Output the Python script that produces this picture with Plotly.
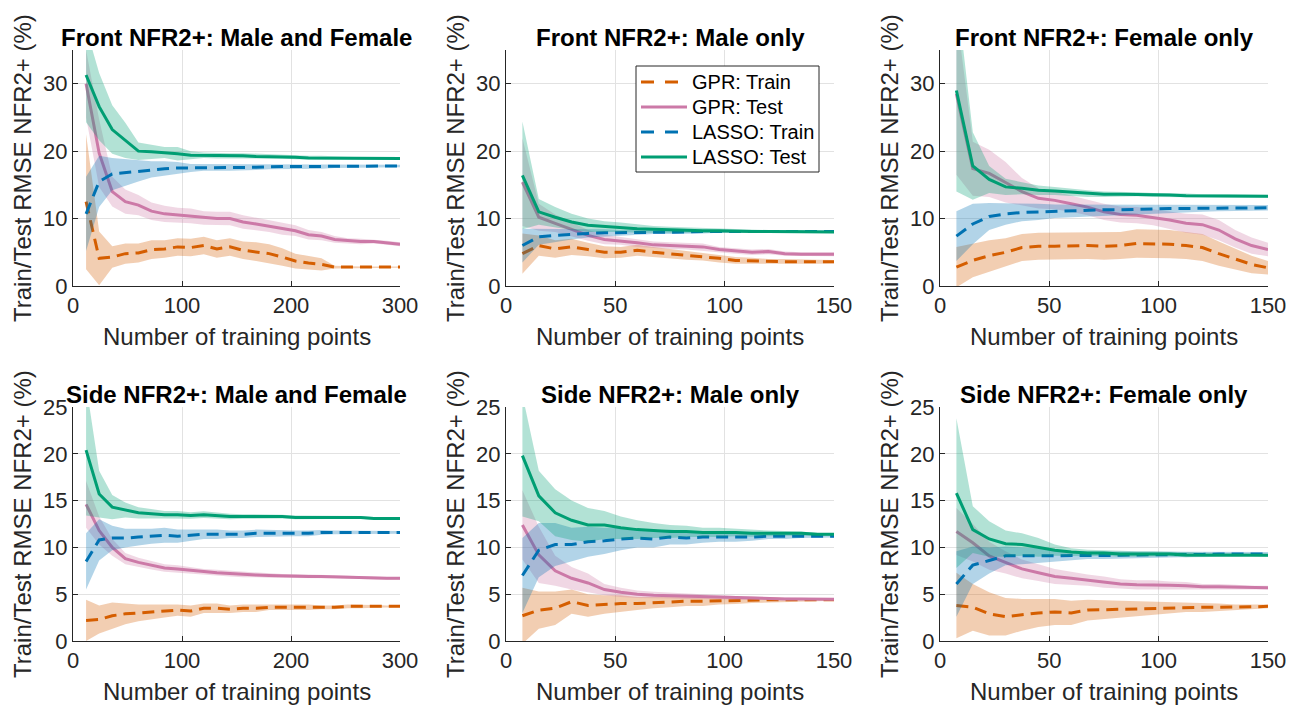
import numpy as np
import plotly.graph_objects as go

W, H = 1289, 707

def px(x):
    return x / W

def py(y):
    return 1 - y / H

# ---------------- data ----------------
X300 = [12 * i for i in range(1, 26)]
X150 = [7.5 * i for i in range(1, 21)]

SERIES = ["GPR: Train", "GPR: Test", "LASSO: Train", "LASSO: Test"]
TITLES = ["Front NFR2+: Male and Female", "Front NFR2+: Male only", "Front NFR2+: Female only",
          "Side NFR2+: Male and Female", "Side NFR2+: Male only", "Side NFR2+: Female only"]
X_TICKS_300 = [0, 100, 200, 300]
X_TICKS_150 = [0, 50, 100, 150]
Y_TICKS_TOP = [0, 10, 20, 30]
Y_TICKS_BOT = [0, 5, 10, 15, 20, 25]

P1_GPR_TRAIN = [12.5, 4.1, 4.3, 4.8, 4.9, 5.4, 5.5, 5.8, 5.7, 6.0, 5.5, 5.8, 5.3, 5.1, 4.8, 4.3, 3.7, 3.4, 3.2, 2.8, 2.8, 2.8, 2.8, 2.8, 2.8]
P1_GPR_TRAIN_SD = [10.0, 4.0, 1.6, 1.5, 1.4, 1.4, 1.3, 1.3, 1.3, 1.3, 1.3, 1.3, 1.3, 1.4, 1.4, 1.3, 1.1, 1.0, 0.9, 0.2, 0.1, 0.1, 0.1, 0.1, 0.1]
P1_GPR_TEST = [30.0, 19.7, 14.0, 12.5, 12.0, 11.1, 10.7, 10.5, 10.4, 10.1, 10.0, 10.0, 9.5, 9.2, 8.9, 8.5, 8.2, 7.6, 7.4, 6.9, 6.7, 6.6, 6.6, 6.4, 6.2]
P1_GPR_TEST_SD = [5.0, 5.0, 2.2, 1.8, 1.5, 1.3, 1.2, 1.1, 1.1, 1.0, 1.0, 1.0, 1.0, 0.9, 0.9, 0.9, 0.8, 0.7, 0.6, 0.5, 0.4, 0.4, 0.3, 0.3, 0.3]
P1_LASSO_TRAIN = [10.7, 15.5, 16.6, 16.8, 17.1, 17.3, 17.4, 17.5, 17.5, 17.6, 17.6, 17.6, 17.6, 17.6, 17.7, 17.7, 17.7, 17.7, 17.7, 17.8, 17.8, 17.8, 17.8, 17.8, 17.8]
P1_LASSO_TRAIN_SD = [5.5, 3.8, 2.4, 2.0, 1.6, 1.2, 1.1, 0.9, 0.6, 0.5, 0.5, 0.5, 0.5, 0.4, 0.4, 0.4, 0.4, 0.3, 0.3, 0.3, 0.3, 0.2, 0.2, 0.2, 0.2]
P1_LASSO_TEST = [31.3, 26.6, 23.2, 21.6, 20.0, 19.9, 19.8, 19.6, 19.4, 19.4, 19.3, 19.3, 19.3, 19.2, 19.2, 19.2, 19.1, 19.0, 19.0, 19.0, 18.9, 18.9, 18.9, 18.9, 18.9]
P1_LASSO_TEST_SD = [7.0, 5.0, 3.6, 2.6, 1.3, 1.0, 0.8, 1.0, 0.6, 0.4, 0.4, 0.4, 0.4, 0.4, 0.3, 0.3, 0.3, 0.3, 0.3, 0.2, 0.2, 0.2, 0.2, 0.2, 0.2]

P2_GPR_TRAIN = [4.8, 6.0, 5.5, 5.8, 5.4, 5.0, 5.0, 5.3, 5.0, 4.8, 4.6, 4.4, 4.1, 3.8, 3.7, 3.6, 3.6, 3.6, 3.6, 3.6]
P2_GPR_TRAIN_SD = [3.0, 1.5, 1.3, 1.2, 1.0, 0.9, 0.8, 0.8, 0.8, 0.7, 0.7, 0.6, 0.6, 0.5, 0.5, 0.4, 0.4, 0.3, 0.3, 0.25]
P2_GPR_TEST = [15.4, 10.2, 9.3, 8.4, 7.5, 6.9, 6.7, 6.4, 6.1, 6.0, 5.9, 5.8, 5.4, 5.2, 5.0, 5.1, 4.8, 4.7, 4.7, 4.7]
P2_GPR_TEST_SD = [6.5, 2.0, 1.3, 1.0, 0.8, 0.7, 0.6, 0.6, 0.5, 0.5, 0.5, 0.5, 0.4, 0.4, 0.4, 0.4, 0.3, 0.3, 0.3, 0.3]
P2_LASSO_TRAIN = [6.0, 7.3, 7.5, 7.7, 7.8, 7.9, 7.9, 8.0, 8.0, 8.0, 8.0, 8.1, 8.1, 8.1, 8.1, 8.1, 8.1, 8.1, 8.1, 8.1]
P2_LASSO_TRAIN_SD = [2.5, 1.2, 1.0, 0.8, 0.6, 0.5, 0.4, 0.4, 0.3, 0.3, 0.3, 0.3, 0.2, 0.2, 0.2, 0.2, 0.2, 0.15, 0.15, 0.15]
P2_LASSO_TEST = [16.4, 11.0, 10.2, 9.5, 9.0, 8.8, 8.7, 8.5, 8.4, 8.3, 8.3, 8.2, 8.2, 8.1, 8.1, 8.1, 8.1, 8.1, 8.0, 8.0]
P2_LASSO_TEST_SD = [8.0, 1.9, 1.5, 1.2, 1.0, 0.8, 0.7, 0.6, 0.5, 0.5, 0.4, 0.4, 0.3, 0.3, 0.3, 0.2, 0.2, 0.2, 0.15, 0.15]

P3_GPR_TRAIN = [2.8, 3.8, 4.5, 5.0, 5.7, 5.9, 5.9, 6.0, 6.0, 5.9, 6.0, 6.3, 6.3, 6.2, 6.0, 5.7, 4.8, 4.0, 3.2, 2.7]
P3_GPR_TRAIN_SD = [3.0, 2.5, 2.3, 2.1, 2.0, 2.0, 2.0, 2.0, 2.0, 2.0, 2.0, 2.1, 2.1, 2.1, 2.0, 2.0, 1.8, 1.6, 1.3, 1.0]
P3_GPR_TEST = [28.5, 17.4, 16.7, 15.4, 14.0, 13.0, 12.7, 12.2, 11.7, 11.0, 10.6, 10.5, 10.2, 9.8, 9.3, 9.1, 8.3, 7.0, 6.0, 5.4]
P3_GPR_TEST_SD = [12.0, 4.0, 3.5, 3.0, 2.0, 1.5, 1.3, 1.2, 1.2, 1.2, 1.2, 1.2, 1.2, 1.3, 1.4, 1.5, 1.5, 1.3, 1.2, 1.0]
P3_LASSO_TRAIN = [7.4, 9.2, 10.3, 10.7, 10.9, 11.0, 11.1, 11.2, 11.2, 11.3, 11.3, 11.4, 11.4, 11.5, 11.5, 11.5, 11.6, 11.6, 11.6, 11.6]
P3_LASSO_TRAIN_SD = [3.7, 3.0, 2.0, 1.6, 1.3, 1.2, 1.0, 0.9, 0.8, 0.8, 0.8, 0.7, 0.7, 0.6, 0.6, 0.5, 0.5, 0.4, 0.4, 0.4]
P3_LASSO_TEST = [29.0, 17.8, 15.8, 14.7, 14.5, 14.2, 14.1, 13.9, 13.7, 13.6, 13.6, 13.6, 13.5, 13.5, 13.4, 13.4, 13.4, 13.3, 13.3, 13.3]
P3_LASSO_TEST_SD = [15.0, 5.0, 2.0, 1.2, 0.9, 0.7, 0.6, 0.5, 0.5, 0.4, 0.4, 0.3, 0.3, 0.3, 0.3, 0.2, 0.2, 0.2, 0.2, 0.2]

P4_GPR_TRAIN = [2.2, 2.3, 2.7, 2.9, 3.0, 3.1, 3.2, 3.3, 3.2, 3.5, 3.5, 3.4, 3.5, 3.5, 3.6, 3.6, 3.6, 3.6, 3.6, 3.6, 3.7, 3.7, 3.7, 3.7, 3.7]
P4_GPR_TRAIN_SD = [2.2, 1.5, 1.4, 1.1, 0.9, 0.8, 0.7, 0.6, 0.6, 0.5, 0.5, 0.4, 0.4, 0.4, 0.3, 0.3, 0.3, 0.3, 0.2, 0.2, 0.2, 0.2, 0.15, 0.1, 0.1]
P4_GPR_TEST = [14.6, 11.8, 10.0, 8.8, 8.4, 8.1, 7.8, 7.7, 7.55, 7.4, 7.3, 7.2, 7.1, 7.05, 7.0, 6.95, 6.95, 6.9, 6.9, 6.85, 6.8, 6.8, 6.75, 6.7, 6.7]
P4_GPR_TEST_SD = [2.5, 1.5, 0.9, 0.6, 0.5, 0.45, 0.4, 0.4, 0.35, 0.3, 0.3, 0.3, 0.3, 0.25, 0.25, 0.2, 0.2, 0.2, 0.2, 0.15, 0.15, 0.15, 0.15, 0.15, 0.15]
P4_LASSO_TRAIN = [8.5, 10.8, 11.0, 11.0, 11.1, 11.2, 11.3, 11.2, 11.3, 11.4, 11.4, 11.4, 11.4, 11.5, 11.5, 11.5, 11.5, 11.5, 11.6, 11.6, 11.6, 11.6, 11.6, 11.6, 11.6]
P4_LASSO_TRAIN_SD = [3.0, 2.2, 1.3, 1.0, 0.9, 0.8, 0.8, 0.7, 0.6, 0.5, 0.5, 0.4, 0.4, 0.4, 0.35, 0.3, 0.3, 0.3, 0.25, 0.2, 0.2, 0.2, 0.15, 0.15, 0.15]
P4_LASSO_TEST = [20.4, 15.7, 14.3, 14.0, 13.7, 13.6, 13.5, 13.5, 13.4, 13.5, 13.4, 13.3, 13.3, 13.3, 13.3, 13.3, 13.2, 13.2, 13.2, 13.2, 13.2, 13.2, 13.1, 13.1, 13.1]
P4_LASSO_TEST_SD = [7.0, 2.5, 1.3, 0.8, 0.6, 0.5, 0.4, 0.4, 0.35, 0.35, 0.3, 0.3, 0.25, 0.25, 0.2, 0.2, 0.2, 0.2, 0.15, 0.15, 0.15, 0.15, 0.15, 0.15, 0.15]

P5_GPR_TRAIN = [2.7, 3.3, 3.5, 4.2, 3.8, 3.9, 4.0, 4.0, 4.1, 4.2, 4.25, 4.25, 4.3, 4.35, 4.35, 4.4, 4.4, 4.4, 4.4, 4.4]
P5_GPR_TRAIN_SD = [3.0, 2.0, 1.8, 1.3, 1.2, 1.0, 0.9, 0.7, 0.6, 0.6, 0.5, 0.5, 0.4, 0.4, 0.3, 0.3, 0.2, 0.2, 0.15, 0.1]
P5_GPR_TEST = [12.4, 9.2, 7.5, 6.7, 6.2, 5.5, 5.2, 5.0, 4.9, 4.85, 4.8, 4.7, 4.65, 4.6, 4.55, 4.5, 4.5, 4.5, 4.45, 4.45]
P5_GPR_TEST_SD = [3.7, 3.0, 1.6, 1.2, 1.0, 0.6, 0.5, 0.4, 0.35, 0.3, 0.3, 0.25, 0.2, 0.2, 0.2, 0.15, 0.15, 0.1, 0.1, 0.1]
P5_LASSO_TRAIN = [7.0, 9.7, 10.3, 10.3, 10.6, 10.7, 10.9, 11.0, 10.9, 11.1, 11.0, 11.1, 11.1, 11.1, 11.1, 11.2, 11.2, 11.2, 11.2, 11.2]
P5_LASSO_TRAIN_SD = [4.0, 2.9, 2.3, 1.8, 1.6, 1.4, 1.2, 1.0, 0.9, 0.8, 0.7, 0.6, 0.5, 0.5, 0.4, 0.3, 0.3, 0.2, 0.15, 0.15]
P5_LASSO_TEST = [19.8, 15.5, 13.7, 12.9, 12.4, 12.4, 12.1, 11.9, 11.8, 11.7, 11.7, 11.6, 11.6, 11.6, 11.5, 11.5, 11.5, 11.5, 11.4, 11.4]
P5_LASSO_TEST_SD = [6.5, 2.7, 2.5, 2.1, 1.8, 1.5, 1.2, 1.0, 0.8, 0.7, 0.6, 0.5, 0.5, 0.4, 0.35, 0.3, 0.25, 0.2, 0.15, 0.15]

P6_GPR_TRAIN = [3.8, 3.6, 2.9, 2.6, 2.8, 3.0, 3.1, 3.0, 3.3, 3.35, 3.4, 3.45, 3.5, 3.55, 3.6, 3.6, 3.6, 3.6, 3.65, 3.7]
P6_GPR_TRAIN_SD = [3.5, 2.5, 2.3, 2.0, 1.7, 1.5, 1.4, 1.3, 1.1, 1.0, 0.9, 0.8, 0.7, 0.6, 0.5, 0.5, 0.4, 0.3, 0.25, 0.2]
P6_GPR_TEST = [11.7, 10.5, 9.1, 8.4, 7.7, 7.3, 6.9, 6.7, 6.5, 6.3, 6.1, 6.0, 6.0, 5.95, 5.9, 5.8, 5.8, 5.75, 5.7, 5.7]
P6_GPR_TEST_SD = [2.5, 2.0, 1.5, 1.2, 1.0, 0.9, 0.8, 0.7, 0.6, 0.6, 0.5, 0.5, 0.5, 0.4, 0.4, 0.3, 0.3, 0.25, 0.2, 0.2]
P6_LASSO_TRAIN = [6.1, 8.1, 8.6, 9.1, 9.1, 9.1, 9.1, 9.1, 9.15, 9.15, 9.15, 9.2, 9.2, 9.2, 9.25, 9.25, 9.3, 9.3, 9.3, 9.3]
P6_LASSO_TRAIN_SD = [3.5, 2.0, 1.4, 1.0, 0.9, 0.8, 0.6, 0.5, 0.4, 0.4, 0.4, 0.35, 0.3, 0.3, 0.3, 0.25, 0.25, 0.2, 0.2, 0.2]
P6_LASSO_TEST = [15.8, 11.9, 10.9, 10.4, 10.3, 10.0, 9.7, 9.5, 9.4, 9.4, 9.3, 9.3, 9.3, 9.3, 9.2, 9.2, 9.2, 9.2, 9.2, 9.15]
P6_LASSO_TEST_SD = [8.0, 2.5, 1.9, 1.4, 1.2, 1.0, 0.6, 0.4, 0.35, 0.3, 0.3, 0.3, 0.3, 0.25, 0.25, 0.2, 0.2, 0.2, 0.15, 0.15]

PANELS = [
    (X300, [(P1_GPR_TRAIN, P1_GPR_TRAIN_SD), (P1_GPR_TEST, P1_GPR_TEST_SD), (P1_LASSO_TRAIN, P1_LASSO_TRAIN_SD), (P1_LASSO_TEST, P1_LASSO_TEST_SD)]),
    (X150, [(P2_GPR_TRAIN, P2_GPR_TRAIN_SD), (P2_GPR_TEST, P2_GPR_TEST_SD), (P2_LASSO_TRAIN, P2_LASSO_TRAIN_SD), (P2_LASSO_TEST, P2_LASSO_TEST_SD)]),
    (X150, [(P3_GPR_TRAIN, P3_GPR_TRAIN_SD), (P3_GPR_TEST, P3_GPR_TEST_SD), (P3_LASSO_TRAIN, P3_LASSO_TRAIN_SD), (P3_LASSO_TEST, P3_LASSO_TEST_SD)]),
    (X300, [(P4_GPR_TRAIN, P4_GPR_TRAIN_SD), (P4_GPR_TEST, P4_GPR_TEST_SD), (P4_LASSO_TRAIN, P4_LASSO_TRAIN_SD), (P4_LASSO_TEST, P4_LASSO_TEST_SD)]),
    (X150, [(P5_GPR_TRAIN, P5_GPR_TRAIN_SD), (P5_GPR_TEST, P5_GPR_TEST_SD), (P5_LASSO_TRAIN, P5_LASSO_TRAIN_SD), (P5_LASSO_TEST, P5_LASSO_TEST_SD)]),
    (X150, [(P6_GPR_TRAIN, P6_GPR_TRAIN_SD), (P6_GPR_TEST, P6_GPR_TEST_SD), (P6_LASSO_TRAIN, P6_LASSO_TRAIN_SD), (P6_LASSO_TEST, P6_LASSO_TEST_SD)]),
]

COLORS = ["#D55E00", "#CC79A7", "#0072B2", "#009E73"]
DASHES = ["12px,7px", "solid", "12px,7px", "solid"]
LEG_DASHES = ["13px,11px", "solid", "13px,11px", "solid"]
FONT = "Liberation Sans, Arial, sans-serif"
TXT = "#262626"

def rgba(hexc, a):
    h = hexc.lstrip("#")
    r, g, b = int(h[0:2], 16), int(h[2:4], 16), int(h[4:6], 16)
    return f"rgba({r},{g},{b},{a})"

XPIX = [(73, 400), (506, 834), (940, 1268)]
YPIX = [(50, 286), (407, 641)]

fig = go.Figure()
layout = dict(width=W, height=H, margin=dict(l=0, r=0, t=0, b=0, pad=0, autoexpand=False),
              paper_bgcolor="white", plot_bgcolor="white",
              font=dict(family=FONT, color=TXT), showlegend=False)
annotations = []
shapes = []

for k, (xs, series) in enumerate(PANELS):
    row, col = divmod(k, 3)
    ax = "" if k == 0 else str(k + 1)
    xa, ya = "x" + ax, "y" + ax
    x0, x1 = XPIX[col]
    yt, yb = YPIX[row]
    common = dict(showgrid=True, gridcolor="#e2e2e2", gridwidth=1, zeroline=False,
                  showline=True, linecolor=TXT, linewidth=1, mirror=False, automargin=False,
                  ticks="inside", ticklen=5, tickcolor=TXT,
                  tickfont=dict(size=22, color=TXT, family=FONT))
    layout["xaxis" + ax] = dict(domain=[px(x0), px(x1)], anchor=ya, range=[0, 300 if col == 0 else 150],
                                tickvals=X_TICKS_300 if col == 0 else X_TICKS_150, **common)
    layout["yaxis" + ax] = dict(domain=[py(yb), py(yt)], anchor=xa, range=[0, 35 if row == 0 else 25],
                                tickvals=Y_TICKS_TOP if row == 0 else Y_TICKS_BOT, **common)
    xarr = np.array(xs, dtype=float)
    for s, (mean, sd) in enumerate(series):
        m = np.array(mean, dtype=float)
        d = np.array(sd, dtype=float)
        fig.add_trace(go.Scatter(
            x=np.concatenate([xarr, xarr[::-1]]), y=np.concatenate([m + d, (m - d)[::-1]]),
            xaxis=xa, yaxis=ya, mode="lines", fill="toself",
            fillcolor=rgba(COLORS[s], 0.3), line=dict(width=0, color=rgba(COLORS[s], 0)),
            showlegend=False, hoverinfo="skip"))
        fig.add_trace(go.Scatter(
            x=xarr, y=m, xaxis=xa, yaxis=ya, mode="lines",
            line=dict(color=COLORS[s], width=3, dash=DASHES[s]),
            name=SERIES[s], showlegend=False))
    cx = (x0 + x1) / 2
    annotations.append(dict(text="<b>" + TITLES[k] + "</b>", xref="paper", yref="paper",
                            x=px(cx), y=py(yt - 13), xanchor="center", yanchor="middle",
                            showarrow=False, font=dict(size=24, color="#000000", family=FONT)))
    annotations.append(dict(text="Number of training points", xref="paper", yref="paper",
                            x=px(cx), y=py(yb + 50), xanchor="center", yanchor="middle",
                            showarrow=False, font=dict(size=24, color=TXT, family=FONT)))
    annotations.append(dict(text="Train/Test RMSE NFR2+ (%)", xref="paper", yref="paper",
                            x=px(x0 - 51), y=py((yt + yb) / 2), xanchor="center", yanchor="middle",
                            textangle=-90, showarrow=False, font=dict(size=24, color=TXT, family=FONT)))

LEG_BOX = (636, 66, 819, 172)
LEG_ROWS = [82, 107, 132, 157]
shapes.append(dict(type="rect", xref="paper", yref="paper",
                   x0=px(LEG_BOX[0]), x1=px(LEG_BOX[2]), y0=py(LEG_BOX[3]), y1=py(LEG_BOX[1]),
                   line=dict(color=TXT, width=1), fillcolor="white", layer="above"))
for s, name in enumerate(SERIES):
    yy = LEG_ROWS[s]
    shapes.append(dict(type="line", xref="paper", yref="paper", x0=px(641), x1=px(687), y0=py(yy), y1=py(yy),
                       line=dict(color=COLORS[s], width=3, dash=LEG_DASHES[s]), layer="above"))
    annotations.append(dict(text=name, xref="paper", yref="paper", x=px(690), y=py(yy),
                            xanchor="left", yanchor="middle", showarrow=False,
                            font=dict(size=20, color="#000000", family=FONT)))

layout["annotations"] = annotations
layout["shapes"] = shapes
fig.update_layout(**layout)

fig.write_html("out.html", config={"displayModeBar": False},
               post_script="document.documentElement.style.overflow='hidden';document.body.style.margin='0';document.body.style.overflow='hidden';")
